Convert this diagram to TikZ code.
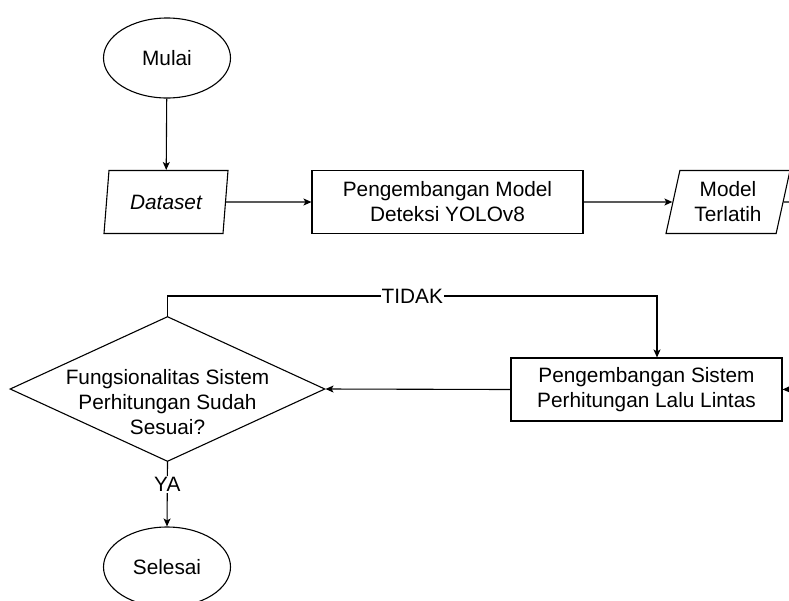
\documentclass[tikz,border=0pt]{standalone}
\usepackage{fontspec}
\setmainfont{Liberation Sans}
\usetikzlibrary{shapes.geometric, positioning, arrows.meta, calc}

\begin{document}
\begin{tikzpicture}[
    x=1pt, y=-1pt,
    font=\fontsize{20.8}{25}\selectfont,
    terminal/.style={
        draw=black, ellipse, line width=1.1pt,
        minimum width=127pt, minimum height=80pt, inner sep=0pt
    },
    io_data/.style={
        draw=black, trapezium, trapezium left angle=71,
        trapezium right angle=109, trapezium stretches body=true,
        line width=1.1pt, minimum width=124pt, minimum height=63pt,
        inner sep=0pt, align=center
    },
    proses/.style={
        draw=black, line width=1.1pt,
        minimum width=271pt, minimum height=63pt,
        inner sep=0pt, align=center
    },
    keputusan/.style={
        draw=black, diamond, shape aspect=2.17, line width=1.1pt,
        minimum width=315pt, minimum height=145pt,
        inner sep=0pt, align=center
    },
    alur/.style={
        -{Stealth[length=8pt, width=7pt, inset=2pt]},
        line width=1.1pt
    },
    garis/.style={line width=1.1pt}
]

\useasboundingbox (0,0) rectangle (789,600);
\clip (0,0) rectangle (789,600);

%% ── Baris atas ─────────────────────────────
\node[terminal] (mulai) at (167,58) {Mulai};
\node[io_data] (dataset) at (166,202) {\itshape Dataset};
\node[proses] (model) at (447.5,202)
    {Pengembangan Model\\Deteksi YOLOv8};
\node[io_data] (terlatih) at (728,202) {Model\\Terlatih};

%% ── Baris bawah ────────────────────────────
\node[proses] (sistem) at (646.5,389.5)
    {Pengembangan Sistem\\Perhitungan Lalu Lintas};
% teks belah ketupat sedikit turun, seperti aslinya
\node[keputusan] (cek) at (167.5,389)
    {\raisebox{-21pt}[0pt][0pt]{\begin{tabular}{@{}c@{}}
        Fungsionalitas Sistem\\Perhitungan Sudah\\Sesuai?
    \end{tabular}}};
\node[terminal] (selesai) at (167,567) {Selesai};

% ujung garis yang keluar dari gambar
\coordinate (keluar) at (800,202);
\coordinate (masuk) at (800,389);
\coordinate (belok) at (657,296);

%% ── Alur ───────────────────────────────────
\draw[alur] (mulai) -- (dataset);
\draw[alur] (dataset.east) -- (model.west);
\draw[alur] (model.east) -- (terlatih.west);
\draw[garis] (terlatih.east) -- (keluar);
\draw[alur] (masuk) -- (sistem.east);
\draw[alur] (sistem.west) -- (cek.east);

% cabang TIDAK
\draw[alur] (cek.north) |- node[pos=0.75, fill=white, inner sep=1pt]{TIDAK}
    (belok) -- (belok |- sistem.north);

% cabang YA
\draw[alur] (cek.south) -- node[pos=0.35, fill=white, inner sep=1pt]{YA}
    (selesai.north);

\end{tikzpicture}
\end{document}
